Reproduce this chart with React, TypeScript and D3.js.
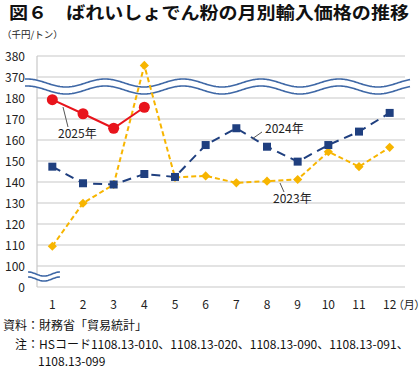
import React, { useRef, useEffect } from "react";
import * as d3 from "d3";

const months = [1, 2, 3, 4, 5, 6, 7, 8, 9, 10, 11, 12];
const yTicks = [0, 100, 110, 120, 130, 140, 150, 160, 170, 180, 370, 380];
const v2025 = [179.2, 172.5, 165.6, 175.6];
const v2024 = [147.3, 139.4, 138.8, 143.8, 142.4, 157.6, 165.6, 156.8, 149.7, 157.6, 164, 172.9];
const v2023 = [109.4, 129.9, 138.8, 375.5, 142.2, 142.9, 139.6, 140.4, 141.2, 154.4, 147.3, 156.5];

const W = 420;
const H = 372;
const FONT = "'Noto Sans CJK JP', 'Noto Sans', sans-serif";

const App = () => {
  const svgRef = useRef<SVGSVGElement>(null);

  useEffect(() => {
    const svg = d3.select(svgRef.current);
    svg.selectAll("*").remove();

    const left = 37;
    const right = 405;

    const x = d3.scaleBand<number>().domain(months).range([left, right]);
    const cx = (m: number) => (x(m) as number) + x.bandwidth() / 2;
    // broken axis: 0 | 100-180 | 370-380
    const y = d3
      .scaleLinear()
      .domain([0, 100, 180, 370, 380])
      .range([287, 266, 98, 77, 56]);

    // title
    svg
      .append("text")
      .attr("x", 9)
      .attr("y", 19)
      .attr("font-family", FONT)
      .attr("font-weight", "bold")
      .attr("font-size", 17.5)
      .attr("fill", "#111")
      .attr("textLength", 400)
      .attr("lengthAdjust", "spacingAndGlyphs")
      .text("図６　ばれいしょでん粉の月別輸入価格の推移");

    svg
      .append("text")
      .attr("x", 2)
      .attr("y", 38)
      .attr("font-family", FONT)
      .attr("font-size", 9.5)
      .attr("fill", "#222")
      .text("（千円/トン）");

    // gridlines
    svg
      .append("g")
      .selectAll("line")
      .data(yTicks.filter((t) => t > 0))
      .enter()
      .append("line")
      .attr("x1", left)
      .attr("x2", right)
      .attr("y1", (d) => y(d))
      .attr("y2", (d) => y(d))
      .attr("stroke", "#c8c8c8")
      .attr("stroke-width", 1.2);

    // axis lines
    svg
      .append("line")
      .attr("x1", left)
      .attr("x2", left)
      .attr("y1", y(380))
      .attr("y2", y(0))
      .attr("stroke", "#c8c8c8")
      .attr("stroke-width", 1.2);
    svg
      .append("line")
      .attr("x1", left)
      .attr("x2", right)
      .attr("y1", y(0))
      .attr("y2", y(0))
      .attr("stroke", "#c8c8c8")
      .attr("stroke-width", 1.2);

    // y tick labels
    svg
      .append("g")
      .selectAll("text")
      .data(yTicks)
      .enter()
      .append("text")
      .attr("x", 25)
      .attr("y", (d) => y(d) + 4.5)
      .attr("text-anchor", "end")
      .attr("font-family", FONT)
      .attr("font-size", 12)
      .attr("fill", "#222")
      .text((d) => d);

    // x tick labels
    svg
      .append("g")
      .selectAll("text")
      .data(months)
      .enter()
      .append("text")
      .attr("x", (d) => cx(d))
      .attr("y", 309)
      .attr("text-anchor", "middle")
      .attr("font-family", FONT)
      .attr("font-size", 12)
      .attr("fill", "#222")
      .text((d) => d);
    svg
      .append("text")
      .attr("x", cx(12) + 8.5)
      .attr("y", 309)
      .attr("font-family", FONT)
      .attr("font-size", 11)
      .attr("fill", "#222")
      .style("font-feature-settings", "'palt'")
      .text("（月）");

    // break waves
    const wave = (x0: number, x1: number, c: number, amp: number, period: number, phase: number) =>
      d3.range(x0, x1 + 0.5, 1).map((px) => [px, c - amp * Math.cos((2 * Math.PI * (px - phase)) / period)] as [number, number]);
    const line = d3.line();

    const topA = wave(25, 410, 83, 4, 78, 105);
    const topB = wave(25, 410, 90, 4, 78, 105);
    svg
      .append("path")
      .attr("d", line([...topA, ...topB.slice().reverse()]) + "Z")
      .attr("fill", "#fff");
    [topA, topB].forEach((p) =>
      svg.append("path").attr("d", line(p)).attr("fill", "none").attr("stroke", "#3f68a6").attr("stroke-width", 1.6)
    );

    const botA = wave(28, 60, 274, 2, 32, 28);
    const botB = wave(28, 60, 279, 2, 32, 28);
    svg
      .append("path")
      .attr("d", line([...botA, ...botB.slice().reverse()]) + "Z")
      .attr("fill", "#fff");
    [botA, botB].forEach((p) =>
      svg.append("path").attr("d", line(p)).attr("fill", "none").attr("stroke", "#3f68a6").attr("stroke-width", 1.6)
    );

    const series = (
      vals: number[],
      color: string,
      dash: string | null,
      shape: d3.SymbolType,
      size: number,
      rotate: number
    ) => {
      const pts = vals.map((v, i) => [cx(months[i]), y(v)] as [number, number]);
      svg
        .append("path")
        .attr("d", line(pts))
        .attr("fill", "none")
        .attr("stroke", color)
        .attr("stroke-width", 2)
        .attr("stroke-dasharray", dash);
      svg
        .append("g")
        .selectAll("path")
        .data(pts)
        .enter()
        .append("path")
        .attr("d", d3.symbol().type(shape).size(size)())
        .attr("transform", (d) => `translate(${d[0]},${d[1]}) rotate(${rotate})`)
        .attr("fill", color);
    };

    series(v2023, "#f7b500", "5,3", d3.symbolSquare, 42, 45);
    series(v2024, "#1f3f7f", "9,6", d3.symbolSquare, 64, 0);
    series(v2025, "#e8141c", null, d3.symbolCircle, 95, 0);

    // annotations
    const ann = (x1: number, y1: number, x2: number, y2: number, tx: number, ty: number, label: string) => {
      svg
        .append("line")
        .attr("x1", x1)
        .attr("y1", y1)
        .attr("x2", x2)
        .attr("y2", y2)
        .attr("stroke", "#555")
        .attr("stroke-width", 1);
      svg
        .append("text")
        .attr("x", tx)
        .attr("y", ty)
        .attr("font-family", FONT)
        .attr("font-size", 12)
        .attr("fill", "#222")
        .text(label);
    };
    ann(63, 107, 68, 127, 58, 138, "2025年");
    ann(252, 139, 262, 132, 265, 133, "2024年");
    ann(280, 183, 284, 192, 273, 203, "2023年");

    // notes
    const notes: [number, number, string][] = [
      [3, 330, "資料：財務省「貿易統計」"],
      [15, 349, "注：HSコード1108.13-010、1108.13-020、1108.13-090、1108.13-091、"],
      [38, 366, "1108.13-099"],
    ];
    svg
      .append("g")
      .selectAll("text")
      .data(notes)
      .enter()
      .append("text")
      .attr("x", (d) => d[0])
      .attr("y", (d) => d[1])
      .attr("font-family", FONT)
      .attr("font-size", 12)
      .attr("fill", "#111")
      .text((d) => d[2]);
  }, []);

  return (
    <div style={{ position: "absolute", left: 0, top: 0, background: "#fff" }}>
      <svg ref={svgRef} width={W} height={H}></svg>
    </div>
  );
};

export default App;
